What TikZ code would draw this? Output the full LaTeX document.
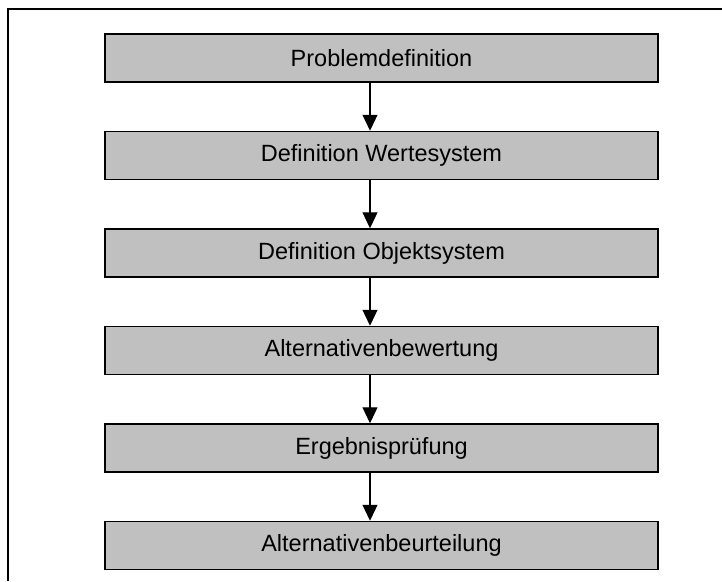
\documentclass[tikz,border=0pt]{standalone}
\usepackage{fontspec}
\setmainfont{Liberation Sans}
\usepackage{xcolor}
\usetikzlibrary{arrows.meta,positioning}

\definecolor{boxgray}{HTML}{C0C0C0}

\begin{document}
\begin{tikzpicture}[
    x=1pt, y=1pt,
    node distance=48pt,
    box/.style={rectangle, draw, fill=boxgray, line width=1.5pt, minimum width=553pt, minimum height=48pt, inner sep=0pt, align=center, font=\fontsize{23.5}{27}\selectfont},
    arrow/.style={-{Triangle[width=15pt,length=16pt]}, line width=1.2pt}
]
\useasboundingbox (0,0) rectangle (722,-581);
\draw[line width=1.5pt] (722,-9) -- (8,-9) -- (8,-581);

\node[box] (prob) at (381.5,-58) {Problemdefinition};
\node[box, below=of prob] (werte) {Definition Wertesystem};
\node[box, below=of werte] (objekt) {Definition Objektsystem};
\node[box, below=of objekt] (bewert) {Alternativenbewertung};
\node[box, below=of bewert] (pruef) {Ergebnisprüfung};
\node[box, below=of pruef] (beurteil) {Alternativenbeurteilung};

\draw[arrow] ([xshift=-11.5pt]prob.south) -- ([xshift=-11.5pt]werte.north);
\draw[arrow] ([xshift=-11.5pt]werte.south) -- ([xshift=-11.5pt]objekt.north);
\draw[arrow] ([xshift=-11.5pt]objekt.south) -- ([xshift=-11.5pt]bewert.north);
\draw[arrow] ([xshift=-11.5pt]bewert.south) -- ([xshift=-11.5pt]pruef.north);
\draw[arrow] ([xshift=-11.5pt]pruef.south) -- ([xshift=-11.5pt]beurteil.north);
\end{tikzpicture}
\end{document}
